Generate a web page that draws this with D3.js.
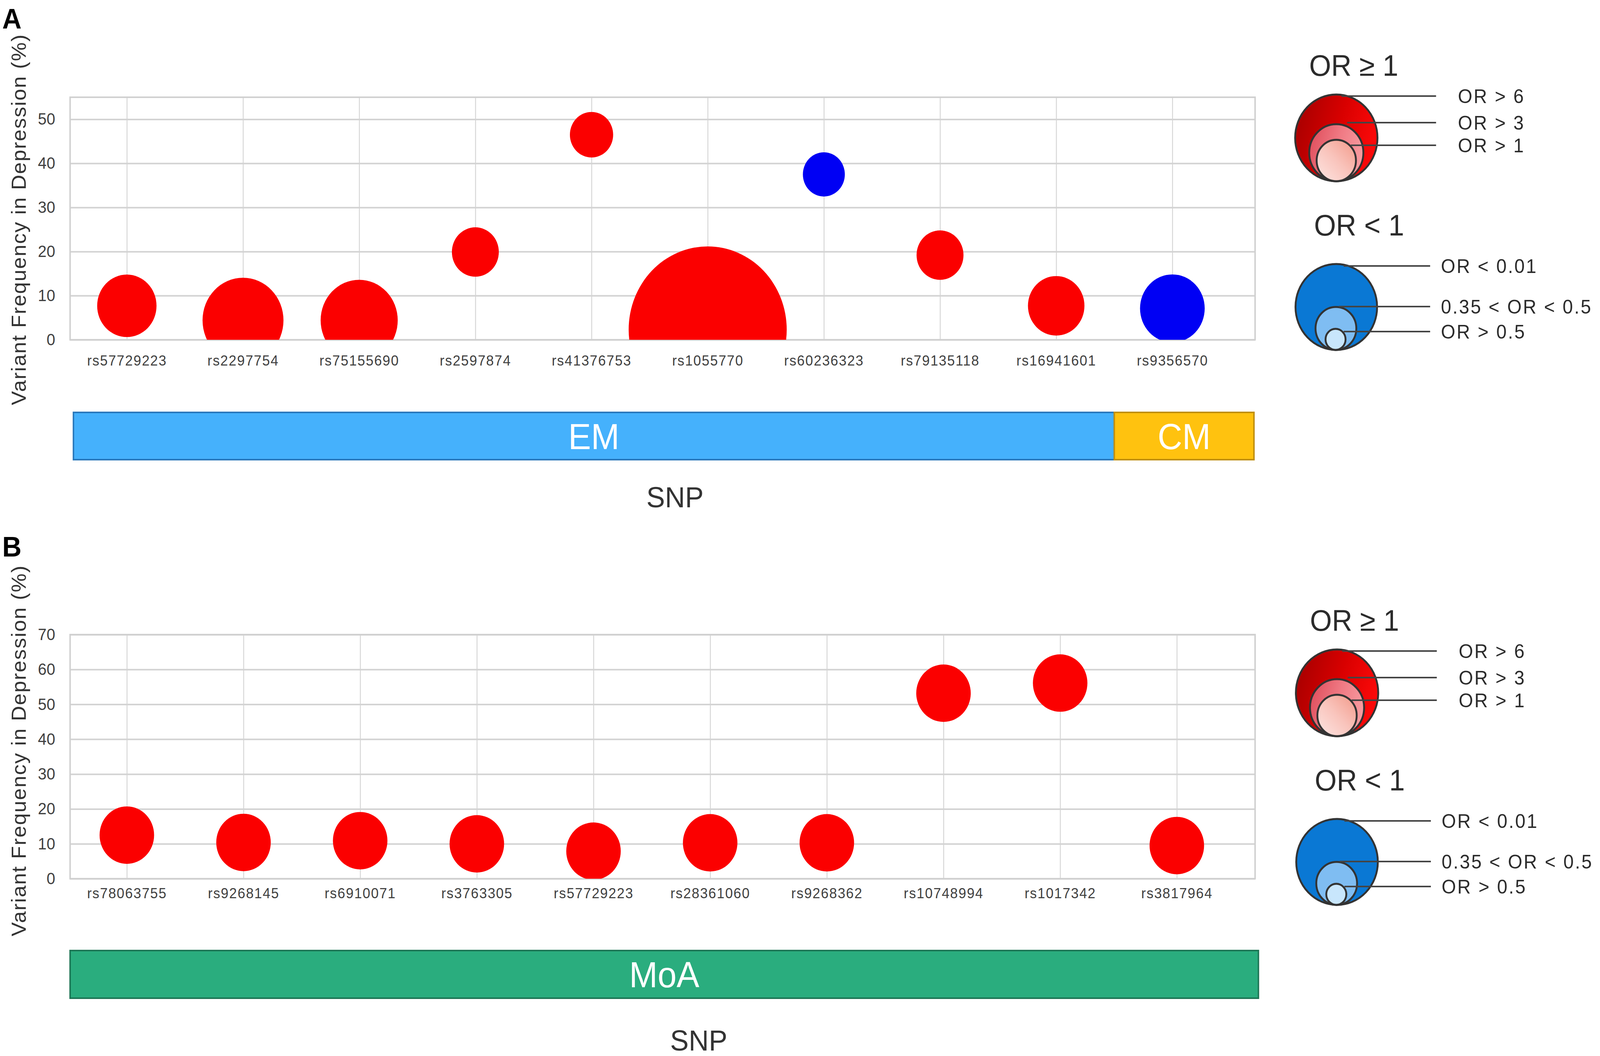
<!DOCTYPE html>
<html>
<head>
<meta charset="utf-8">
<script src="https://cdn.jsdelivr.net/npm/d3@7"></script>
<style>
  html, body { margin: 0; padding: 0; background: #fff; overflow: hidden; }
  #chart svg { display: block; width: 100vw; height: 100vh; }
  text { font-family: "Liberation Sans", Arial, sans-serif; }
</style>
</head>
<body>
<div id="chart"></div>
<script>
// PANEL A DATA
const snpsA = ["rs57729223", "rs2297754", "rs75155690", "rs2597874", "rs41376753",
               "rs1055770", "rs60236323", "rs79135118", "rs16941601", "rs9356570"];
const freqA = [7.7, 4.4, 4.4, 19.9, 46.5, 2.3, 37.5, 19.2, 7.7, 7.1];
// relative bubble magnitude (area)
const bubbleA = [64, 119, 108, 40, 34, 454, 32, 40, 58, 76];
const orA = [">=1", ">=1", ">=1", ">=1", ">=1", ">=1", "<1", ">=1", ">=1", "<1"];
const groupA = ["EM", "EM", "EM", "EM", "EM", "EM", "EM", "EM", "EM", "CM"];
const yTicksA = [0, 10, 20, 30, 40, 50];

// PANEL B DATA
const snpsB = ["rs78063755", "rs9268145", "rs6910071", "rs3763305", "rs57729223",
               "rs28361060", "rs9268362", "rs10748994", "rs1017342", "rs3817964"];
const freqB = [12.5, 10.4, 10.9, 10.0, 7.9, 10.3, 10.3, 53.2, 56.1, 9.5];
const bubbleB = [54, 54, 54, 54, 54, 54, 54, 54, 54, 54];
const orB = [">=1", ">=1", ">=1", ">=1", ">=1", ">=1", ">=1", ">=1", ">=1", ">=1"];
const groupB = ["MoA", "MoA", "MoA", "MoA", "MoA", "MoA", "MoA", "MoA", "MoA", "MoA"];
const yTicksB = [0, 10, 20, 30, 40, 50, 60, 70];

// LEGEND TEXTS
const legendUpTitle = "OR ≥ 1";
const legendUpLabels = ["OR > 6", "OR > 3", "OR > 1"];
const legendDownTitle = "OR < 1";
const legendDownLabels = ["OR < 0.01", "0.35 < OR < 0.5", "OR > 0.5"];

const W = 4314, H = 2704;
// fill the whole window whatever its size
const svg = d3.select("#chart").append("svg")
    .attr("viewBox", `0 0 ${W} ${H}`)
    .attr("preserveAspectRatio", "none");

const groupColors = {
    EM: { fill: "#45b1fc", stroke: "#2a78bb" },
    CM: { fill: "#ffc20f", stroke: "#bf8f12" },
    MoA: { fill: "#2aad7e", stroke: "#1d7655" }
};
const orColor = { ">=1": "#fb0000", "<1": "#0000f4" };

// bubble size: radius = 10 * sqrt(value)
const rScale = d3.scaleSqrt().domain([0, 100]).range([0, 100]);

class BubblePanel {
    constructor(svg, cfg) {
        this.svg = svg;
        this.cfg = cfg;
        this.g = svg.append("g").attr("class", "panel-" + cfg.id);
        this.x = d3.scalePoint().domain(cfg.snps).range(cfg.xRange);
        this.y = d3.scaleLinear().domain([0, cfg.yMax]).range([cfg.bottom, cfg.top]);
        this.draw();
    }

    draw() {
        const c = this.cfg;
        const width = c.right - c.left;
        const height = c.bottom - c.top;

        // VERTICAL GRID + SNP LABELS
        const xAxis = d3.axisBottom(this.x).tickSize(-height).tickPadding(c.xPad);
        const gx = this.g.append("g")
            .attr("transform", `translate(0,${c.bottom})`)
            .call(xAxis);
        gx.select(".domain").remove();
        gx.selectAll(".tick line").attr("stroke", "#d6d6d6").attr("stroke-width", 2.5);
        gx.selectAll(".tick text")
            .attr("font-size", 37)
            .attr("letter-spacing", 2)
            .attr("fill", "#404040");

        // HORIZONTAL GRID + Y LABELS
        const yAxis = d3.axisLeft(this.y).tickValues(c.yTicks).tickSize(-width).tickPadding(40);
        const gy = this.g.append("g")
            .attr("transform", `translate(${c.left},0)`)
            .call(yAxis);
        gy.select(".domain").remove();
        gy.selectAll(".tick line").attr("stroke", "#d3d3d3").attr("stroke-width", 4);
        gy.selectAll(".tick text").attr("font-size", 42).attr("fill", "#404040");

        // frame
        this.g.append("rect")
            .attr("x", c.left).attr("y", c.top)
            .attr("width", width).attr("height", height)
            .attr("fill", "none")
            .attr("stroke", "#d0d0d0")
            .attr("stroke-width", 4);

        // clip bubbles to the plot area
        const clipId = "clip-" + c.id;
        this.svg.append("clipPath").attr("id", clipId)
            .append("rect")
            .attr("x", c.left).attr("y", c.top - 300)
            .attr("width", width).attr("height", height + 300);

        const rows = c.snps.map((s, i) => ({
            snp: s, freq: c.freq[i], size: c.bubble[i], or: c.or[i]
        }));

        this.g.append("g")
            .attr("clip-path", `url(#${clipId})`)
            .selectAll(".bubble")
            .data(rows)
            .enter()
            .append("circle")
            .attr("class", "bubble")
            .attr("cx", d => this.x(d.snp))
            .attr("cy", d => this.y(d.freq))
            .attr("r", d => rScale(d.size))
            .attr("fill", d => orColor[d.or]);

        this.drawGroups();
        this.drawTitles();
    }

    // GROUP BAR UNDER THE AXIS
    drawGroups() {
        const c = this.cfg;
        const groups = [];
        c.groups.forEach((name, i) => {
            const last = groups[groups.length - 1];
            if (last && last.name === name) last.end = i;
            else groups.push({ name: name, start: i, end: i });
        });
        const step = this.x.step();
        const edge = (i, side) => {
            if (side < 0 && i === 0) return c.barLeft;
            if (side > 0 && i === c.snps.length - 1) return c.barRight;
            return this.x(c.snps[i]) + side * step / 2;
        };

        const bars = this.g.append("g").attr("class", "groups");
        groups.forEach(gr => {
            const x0 = edge(gr.start, -1), x1 = edge(gr.end, 1);
            bars.append("rect")
                .attr("x", x0).attr("y", c.barTop)
                .attr("width", x1 - x0).attr("height", c.barHeight)
                .attr("fill", groupColors[gr.name].fill)
                .attr("stroke", groupColors[gr.name].stroke)
                .attr("stroke-width", 4);
            bars.append("text")
                .attr("x", (x0 + x1) / 2)
                .attr("y", c.barTop + c.barHeight / 2 + 0.36 * 92)
                .attr("text-anchor", "middle")
                .attr("font-size", 92)
                .attr("fill", "#fff")
                .text(gr.name);
        });
    }

    // TITLES
    drawTitles() {
        const c = this.cfg;
        this.g.append("text")
            .attr("x", c.snpX).attr("y", c.snpY)
            .attr("text-anchor", "middle")
            .attr("font-size", 75)
            .attr("fill", "#333")
            .text("SNP");

        this.g.append("text")
            .attr("transform", `translate(70,${c.yTitleY}) rotate(-90)`)
            .attr("text-anchor", "middle")
            .attr("font-size", 54)
            .attr("letter-spacing", 2)
            .attr("fill", "#333")
            .text("Variant Frequency in Depression (%)");

        this.g.append("text")
            .attr("x", 6).attr("y", c.letterY)
            .attr("font-size", 72)
            .attr("font-weight", "bold")
            .attr("fill", "#000")
            .text(c.id);
    }
}

// LEGEND GRADIENTS
const defs = svg.append("defs");
function addGradient(id, stops, x1, y1, x2, y2) {
    const gr = defs.append("linearGradient").attr("id", id)
        .attr("x1", x1).attr("y1", y1).attr("x2", x2).attr("y2", y2);
    stops.forEach((s, i) => gr.append("stop")
        .attr("offset", i / (stops.length - 1)).attr("stop-color", s));
}
addGradient("up0", ["#a80000", "#d80000", "#ff0a0a"], 0, 0.3, 1, 0.6);
addGradient("up1", ["#e0505e", "#f07a84", "#f89ea2"], 0, 0.3, 1, 0.6);
addGradient("up2", ["#fde6e3", "#f9c4bc", "#f29888"], 0, 1, 1, 0);

function drawLegend(svg, dx, dy) {
    const g = svg.append("g").attr("transform", `translate(${dx},${dy})`);
    const fs = 50, cx = 3603;

    // OR >= 1
    g.append("text").attr("x", 3530).attr("y", 194)
        .attr("font-size", 76).attr("fill", "#2b2b2b").text(legendUpTitle);
    const upR = [111, 73, 53], upBase = 464;
    upR.forEach((r, i) => g.append("circle")
        .attr("cx", cx).attr("cy", upBase - r).attr("r", r)
        .attr("fill", `url(#up${i})`)
        .attr("stroke", "#333").attr("stroke-width", 5));
    const upY = [246, 314, 372], upX1 = [3617, 3632, 3642];
    legendUpLabels.forEach((lab, i) => {
        g.append("line").attr("x1", upX1[i]).attr("x2", 3872)
            .attr("y1", upY[i]).attr("y2", upY[i])
            .attr("stroke", "#444").attr("stroke-width", 4);
        g.append("text").attr("x", 3931).attr("y", upY[i] + 0.36 * fs)
            .attr("font-size", fs).attr("letter-spacing", 3.5)
            .attr("fill", "#2b2b2b").text(lab);
    });

    // OR < 1
    g.append("text").attr("x", 3543).attr("y", 603)
        .attr("font-size", 76).attr("fill", "#2b2b2b").text(legendDownTitle);
    const downR = [110, 55, 27], downBase = 896;
    const downFill = ["#0a78d4", "#7fbdf2", "#c8e6fc"];
    downR.forEach((r, i) => g.append("circle")
        .attr("cx", cx - i).attr("cy", downBase - r).attr("r", r)
        .attr("fill", downFill[i])
        .attr("stroke", "#333").attr("stroke-width", 5));
    const downY = [681, 785, 849], downX1 = [3623, 3610, 3623];
    legendDownLabels.forEach((lab, i) => {
        g.append("line").attr("x1", downX1[i]).attr("x2", 3856)
            .attr("y1", downY[i]).attr("y2", downY[i])
            .attr("stroke", "#444").attr("stroke-width", 4);
        g.append("text").attr("x", 3885).attr("y", downY[i] + 0.36 * fs)
            .attr("font-size", fs).attr("letter-spacing", 3.5)
            .attr("fill", "#2b2b2b").text(lab);
    });
}

new BubblePanel(svg, {
    id: "A", snps: snpsA, freq: freqA, bubble: bubbleA, or: orA, groups: groupA,
    yTicks: yTicksA, yMax: 55,
    left: 189, right: 3384, top: 249, bottom: 870, xRange: [342, 3161], xPad: 40,
    barLeft: 198, barRight: 3381, barTop: 1056, barHeight: 121,
    snpX: 1820, snpY: 1299, yTitleY: 562, letterY: 73
});

new BubblePanel(svg, {
    id: "B", snps: snpsB, freq: freqB, bubble: bubbleB, or: orB, groups: groupB,
    yTicks: yTicksB, yMax: 70,
    left: 189, right: 3384, top: 1625, bottom: 2250, xRange: [342, 3173], xPad: 24,
    barLeft: 189, barRight: 3393, barTop: 2434, barHeight: 122,
    snpX: 1884, snpY: 2690, yTitleY: 1922, letterY: 1425
});

drawLegend(svg, 0, 0);
drawLegend(svg, 2, 1421);
</script>
</body>
</html>
